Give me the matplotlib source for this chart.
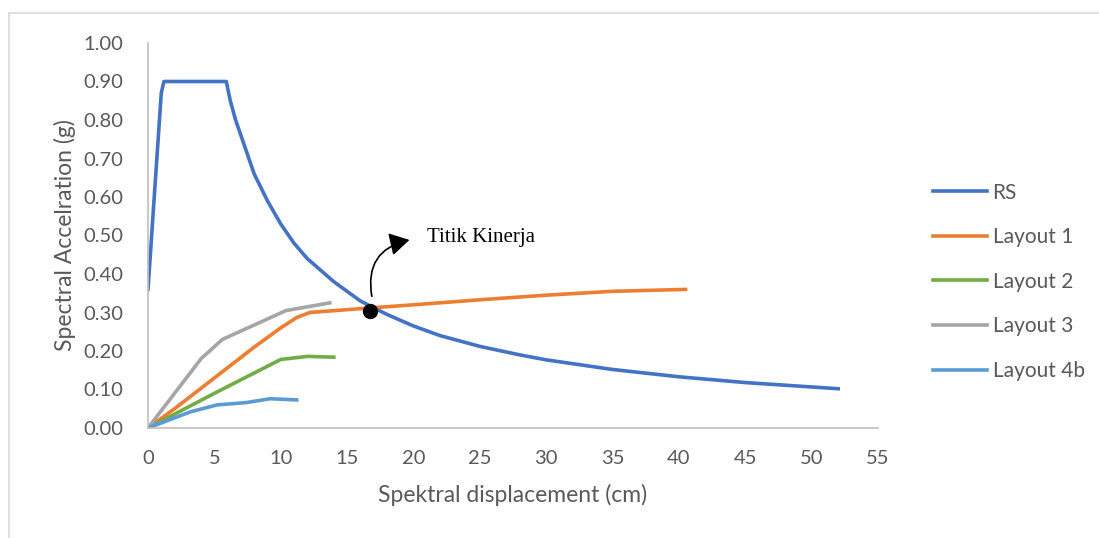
import matplotlib
matplotlib.use("Agg")
from matplotlib import pyplot as plt
from matplotlib.patches import Rectangle, FancyArrowPatch

# Data
rs_x = [0, 1.0, 1.2, 5.9, 6.2, 6.6, 7.0, 7.5, 8.0, 8.5, 9.0, 9.5, 10, 11, 12, 13, 14, 15, 16,
        18, 20, 22, 25, 28, 30, 35, 40, 45, 52]
rs_y = [0.36, 0.87, 0.90, 0.90, 0.85, 0.80, 0.76, 0.71, 0.66, 0.625, 0.59, 0.56, 0.53, 0.48,
        0.44, 0.41, 0.38, 0.355, 0.33, 0.295, 0.265, 0.24, 0.212, 0.19, 0.177, 0.152, 0.133,
        0.118, 0.102]
l1_x = [0, 2, 5, 8, 10, 11.2, 12.2, 16, 20, 25, 30, 35, 40.5]
l1_y = [0, 0.05, 0.13, 0.21, 0.26, 0.287, 0.30, 0.31, 0.32, 0.333, 0.345, 0.355, 0.36]
l2_x = [0, 5, 10, 12, 14]
l2_y = [0, 0.09, 0.178, 0.186, 0.184]
l3_x = [0, 4, 5.6, 10.4, 13.7]
l3_y = [0, 0.18, 0.23, 0.305, 0.325]
l4_x = [0, 3.2, 5.2, 7.4, 9.2, 11.2]
l4_y = [0, 0.042, 0.06, 0.066, 0.076, 0.073]
titik = (16.7, 0.305)

txt = '#595959'
plt.rcParams['font.family'] = ['Lato', 'DejaVu Sans']

fig = plt.figure(figsize=(10.99, 5.38), dpi=100)
fig.patches.append(Rectangle((9 / 1099, -0.1), 1.2, 1 - 13 / 538 + 0.1, transform=fig.transFigure,
                             fill=False, edgecolor='#d9d9d9', linewidth=1.2))
ax = fig.add_axes([148 / 1099, 1 - 428 / 538, 730 / 1099, 385 / 538])

ax.plot(rs_x, rs_y, color='#4472C4', lw=2.6, label='RS')
ax.plot(l1_x, l1_y, color='#ED7D31', lw=2.6, label='Layout 1')
ax.plot(l2_x, l2_y, color='#70AD47', lw=2.6, label='Layout 2')
ax.plot(l3_x, l3_y, color='#A5A5A5', lw=2.6, label='Layout 3')
ax.plot(l4_x, l4_y, color='#5B9BD5', lw=2.6, label='Layout 4b')

ax.plot(*titik, 'o', color='black', markersize=10, zorder=5)
arrow = FancyArrowPatch((titik[0] + 0.2, titik[1] + 0.03), (19.9, 0.49),
                        connectionstyle='arc3,rad=-0.5', arrowstyle='-|>,head_length=12,head_width=7',
                        color='black', lw=1.2, zorder=5)
ax.add_patch(arrow)
ax.text(21.0, 0.495, 'Titik Kinerja', family='Liberation Serif', fontsize=15, color='black',
        va='center', ha='left')

ax.set_xlim(0, 55)
ax.set_ylim(0, 1.0)
ax.set_xticks(range(0, 56, 5))
ax.set_yticks([i / 10 for i in range(11)])
ax.set_yticklabels(['%.2f' % (i / 10) for i in range(11)])
ax.tick_params(length=0, labelsize=14.5, colors=txt)
ax.tick_params(axis='x', pad=16)
ax.tick_params(axis='y', pad=18)
for s in ['top', 'right']:
    ax.spines[s].set_visible(False)
for s in ['left', 'bottom']:
    ax.spines[s].set_color('#bfbfbf')
    ax.spines[s].set_linewidth(1.2)

ax.set_xlabel('Spektral displacement (cm)', fontsize=16.5, color=txt, labelpad=12)
ax.set_ylabel('Spectral Accelration (g)', fontsize=16.5, color=txt, labelpad=5)

ax.legend(loc='center left', bbox_to_anchor=(1.05, 0.38), frameon=False, fontsize=15,
          labelcolor=txt, handlelength=2.6, handletextpad=0.25, labelspacing=1.18)

fig.savefig('out.png', dpi=100)
